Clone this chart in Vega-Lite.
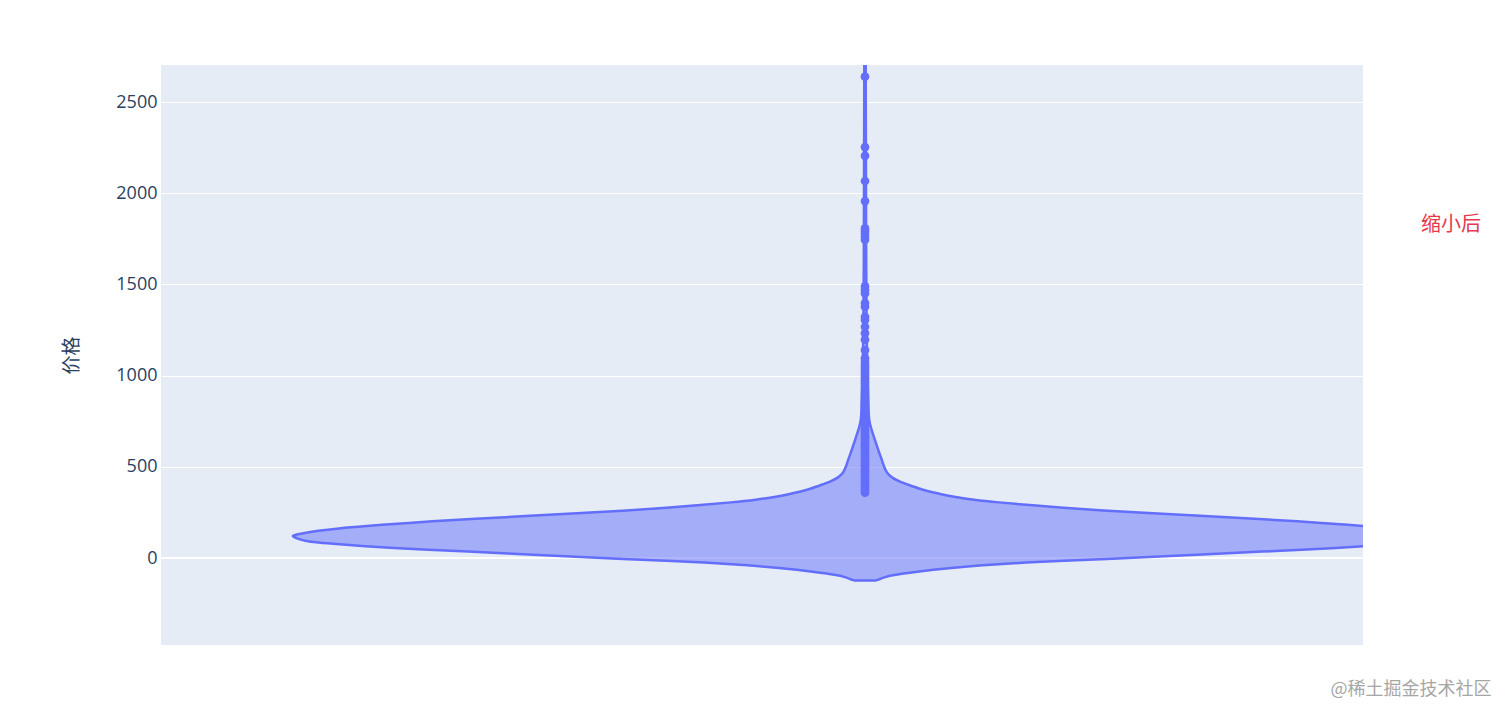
{
  "$schema": "https://vega.github.io/schema/vega-lite/v6.json",
  "width": 1202,
  "height": 580,
  "autosize": {"type": "none"},
  "padding": {"left": 161, "top": 65, "right": 149, "bottom": 76},
  "background": "#ffffff",
  "config": {
    "view": {"fill": "#E5ECF6", "stroke": null},
    "font": "Open Sans"
  },
  "datasets": {
    "violin": [
      {"price": -124, "lo": -10, "hi": 10},
      {"price": -115, "lo": -15, "hi": 15},
      {"price": -105, "lo": -20, "hi": 20},
      {"price": -95, "lo": -27, "hi": 27},
      {"price": -85, "lo": -38, "hi": 38},
      {"price": -75, "lo": -52, "hi": 52},
      {"price": -65, "lo": -68, "hi": 68},
      {"price": -55, "lo": -86, "hi": 86},
      {"price": -45, "lo": -105, "hi": 105},
      {"price": -35, "lo": -128, "hi": 128},
      {"price": -25, "lo": -160, "hi": 160},
      {"price": -15, "lo": -198, "hi": 198},
      {"price": -5, "lo": -242, "hi": 242},
      {"price": 5, "lo": -285, "hi": 285},
      {"price": 15, "lo": -322, "hi": 322},
      {"price": 25, "lo": -356, "hi": 356},
      {"price": 35, "lo": -397, "hi": 397},
      {"price": 45, "lo": -438, "hi": 438},
      {"price": 55, "lo": -472, "hi": 472},
      {"price": 65, "lo": -500, "hi": 500},
      {"price": 75, "lo": -526, "hi": 526},
      {"price": 85, "lo": -548, "hi": 548},
      {"price": 95, "lo": -561, "hi": 561},
      {"price": 105, "lo": -567, "hi": 567},
      {"price": 115, "lo": -571, "hi": 571},
      {"price": 122, "lo": -573, "hi": 573},
      {"price": 130, "lo": -568, "hi": 568},
      {"price": 140, "lo": -558, "hi": 558},
      {"price": 150, "lo": -545, "hi": 545},
      {"price": 162, "lo": -528, "hi": 528},
      {"price": 175, "lo": -500, "hi": 500},
      {"price": 190, "lo": -462, "hi": 462},
      {"price": 200, "lo": -436, "hi": 436},
      {"price": 215, "lo": -390, "hi": 390},
      {"price": 230, "lo": -340, "hi": 340},
      {"price": 245, "lo": -288, "hi": 288},
      {"price": 260, "lo": -236, "hi": 236},
      {"price": 275, "lo": -198, "hi": 198},
      {"price": 290, "lo": -164, "hi": 164},
      {"price": 305, "lo": -133, "hi": 133},
      {"price": 320, "lo": -108, "hi": 108},
      {"price": 335, "lo": -90, "hi": 90},
      {"price": 350, "lo": -76, "hi": 76},
      {"price": 365, "lo": -64, "hi": 64},
      {"price": 380, "lo": -54, "hi": 54},
      {"price": 400, "lo": -44, "hi": 44},
      {"price": 420, "lo": -34, "hi": 34},
      {"price": 440, "lo": -27, "hi": 27},
      {"price": 464, "lo": -22, "hi": 22},
      {"price": 500, "lo": -19, "hi": 19},
      {"price": 537, "lo": -17, "hi": 17},
      {"price": 580, "lo": -14, "hi": 14},
      {"price": 629, "lo": -11, "hi": 11},
      {"price": 680, "lo": -8, "hi": 8},
      {"price": 720, "lo": -5.5, "hi": 5.5},
      {"price": 760, "lo": -4, "hi": 4},
      {"price": 800, "lo": -3.5, "hi": 3.5},
      {"price": 900, "lo": -3, "hi": 3},
      {"price": 1000, "lo": -2.5, "hi": 2.5},
      {"price": 1100, "lo": -2, "hi": 2},
      {"price": 1300, "lo": -1.5, "hi": 1.5},
      {"price": 1600, "lo": -1.2, "hi": 1.2},
      {"price": 2000, "lo": -1, "hi": 1},
      {"price": 2500, "lo": -0.8, "hi": 0.8},
      {"price": 2900, "lo": -0.6, "hi": 0.6}
    ],
    "outliers": [
      {"price": 2639}, {"price": 2253}, {"price": 2205}, {"price": 2067}, {"price": 1957},
      {"price": 1807}, {"price": 1793}, {"price": 1778}, {"price": 1762}, {"price": 1745},
      {"price": 1489}, {"price": 1470}, {"price": 1450}, {"price": 1398}, {"price": 1378},
      {"price": 1322}, {"price": 1305}, {"price": 1268}, {"price": 1232}, {"price": 1197},
      {"price": 1140}, {"price": 1095}, {"price": 1075},
      {"price": 1060}, {"price": 1047}, {"price": 1034}, {"price": 1021}, {"price": 1008},
      {"price": 995}, {"price": 982}, {"price": 969}, {"price": 956}, {"price": 943},
      {"price": 930}, {"price": 917}, {"price": 904}, {"price": 891}, {"price": 878},
      {"price": 865}, {"price": 852}, {"price": 839}, {"price": 826}, {"price": 813},
      {"price": 800}, {"price": 787}, {"price": 774}, {"price": 761}, {"price": 748},
      {"price": 735}, {"price": 722}, {"price": 709}, {"price": 696}, {"price": 683},
      {"price": 670}, {"price": 657}, {"price": 644}, {"price": 631}, {"price": 618},
      {"price": 605}, {"price": 592}, {"price": 579}, {"price": 566}, {"price": 553},
      {"price": 540}, {"price": 527}, {"price": 514}, {"price": 501}, {"price": 488},
      {"price": 475}, {"price": 462}, {"price": 449}, {"price": 436}, {"price": 423},
      {"price": 410}, {"price": 397}, {"price": 384}, {"price": 371}, {"price": 358}
    ]
  },
  "layer": [
    {
      "data": {"name": "violin"},
      "mark": {"type": "rule", "color": "#ffffff", "strokeWidth": 2},
      "encoding": {
        "y": {"datum": 0, "type": "quantitative"}
      }
    },
    {
      "data": {"name": "violin"},
      "mark": {
        "type": "area",
        "orient": "horizontal",
        "interpolate": "basis",
        "fill": "#636efa",
        "fillOpacity": 0.5,
        "stroke": "#636efa",
        "strokeWidth": 2.5,
        "strokeJoin": "round",
        "clip": true
      },
      "encoding": {
        "y": {
          "field": "price",
          "type": "quantitative",
          "scale": {"domain": [-477, 2703], "nice": false, "zero": false},
          "axis": {
            "title": "价格",
            "titleFont": "Noto Sans CJK SC",
            "titleFontSize": 19,
            "titleFontWeight": "normal",
            "titleColor": "#2a3f5f",
            "titlePadding": 34,
            "values": [0, 500, 1000, 1500, 2000, 2500],
            "format": "d",
            "labelFont": "Open Sans",
            "labelFontSize": 18,
            "labelColor": "#2a3f5f",
            "labelPadding": 4,
            "grid": true,
            "gridColor": "#ffffff",
            "gridWidth": 1,
            "gridOpacity": 1,
            "domain": false,
            "ticks": false
          }
        },
        "x": {
          "field": "lo",
          "type": "quantitative",
          "scale": {"domain": [-704, 498], "nice": false, "zero": false},
          "axis": null
        },
        "x2": {"field": "hi"}
      }
    },
    {
      "data": {"name": "outliers"},
      "mark": {"type": "circle", "color": "#636efa", "opacity": 1, "size": 76, "clip": true},
      "encoding": {
        "x": {"datum": 0, "type": "quantitative"},
        "y": {"field": "price", "type": "quantitative"}
      }
    },
    {
      "data": {"values": [{}]},
      "mark": {"type": "text", "text": "缩小后", "font": "Noto Sans CJK SC", "fontSize": 20, "color": "#e5384f", "align": "center", "baseline": "middle"},
      "encoding": {
        "x": {"datum": 586, "type": "quantitative"},
        "y": {"datum": 1825, "type": "quantitative"}
      }
    },
    {
      "data": {"values": [{}]},
      "mark": {"type": "text", "text": "@稀土掘金技术社区", "font": "Noto Sans CJK SC", "fontSize": 18, "color": "#a6a6a6", "align": "center", "baseline": "middle"},
      "encoding": {
        "x": {"datum": 546, "type": "quantitative"},
        "y": {"datum": -724, "type": "quantitative"}
      }
    }
  ]
}
